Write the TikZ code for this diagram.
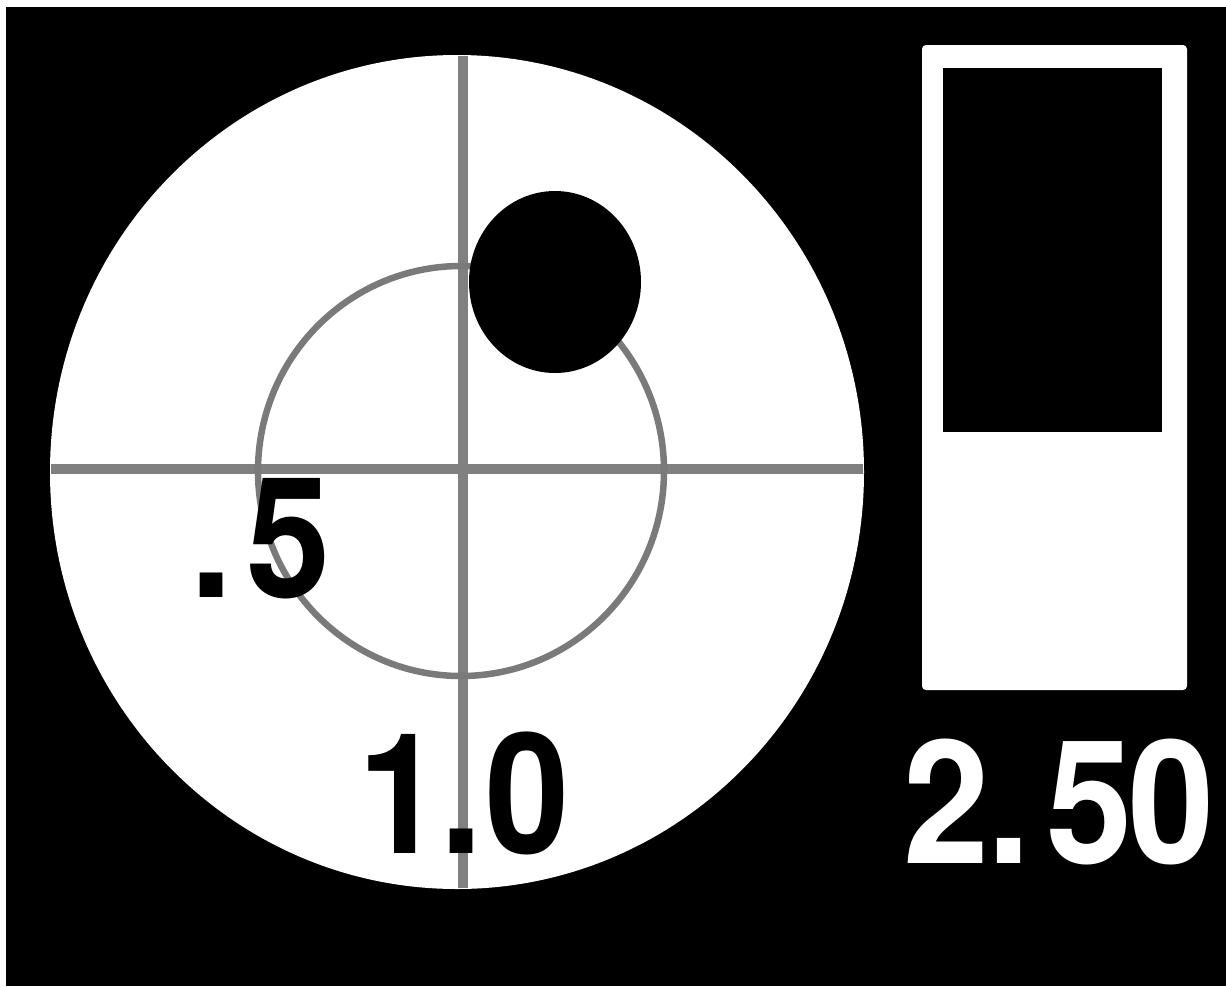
\documentclass[tikz,border=0pt]{standalone}
\usepackage{fontspec}
\setmainfont{Liberation Sans}
\newfontfamily\numfont[FakeStretch=0.9]{TeX Gyre Heros}
\begin{document}
\begin{tikzpicture}[x=1pt,y=-1pt,
  crossline/.style={draw=black!50, line width=10.5pt},
  ringline/.style={draw=black!52, line width=6.5pt},
  numlabel/.style={inner sep=0pt, anchor=base west, font=\numfont\fontsize{168}{168}\selectfont\bfseries}]
% canvas with thin white top/left edge
\fill[white] (0,0) rectangle (1226,986);
\fill[black] (6,7) rectangle (1226,986);
\useasboundingbox (0,0) rectangle (1226,986);
% target disc
\fill[white] (457,472) ellipse [x radius=407, y radius=417];
\coordinate (vtop) at (463,40);
\coordinate (vbot) at (463,900);
\coordinate (hleft) at (40,469);
\coordinate (hright) at (880,469);
\begin{scope}
  \clip (457,472) ellipse [x radius=406, y radius=416];
  \draw[crossline] (vtop) -- (vbot);
  \draw[crossline] (hleft) -- (hright);
\end{scope}
% inner ring
\draw[ringline] (461,471) ellipse [x radius=203, y radius=205];
% black dot
\fill[black] (555,282) ellipse [x radius=86, y radius=91];
% labels on disc
\node[numlabel, text=black] (half) at (190,597) {.\kern14pt 5};
\node[numlabel, text=black] (one) at (358,853) {1\kern-2pt .\kern3pt 0};
% gauge bar
\fill[white, rounded corners=4pt] (922,45) rectangle (1187,690);
\fill[black] (943,68) rectangle (1162,432);
\node[numlabel, text=white, font=\numfont\fontsize{172}{172}\selectfont\bfseries] (value) at (903,863) {2\kern-2pt .\kern16pt 5\kern-4pt 0};
\end{tikzpicture}
\end{document}
